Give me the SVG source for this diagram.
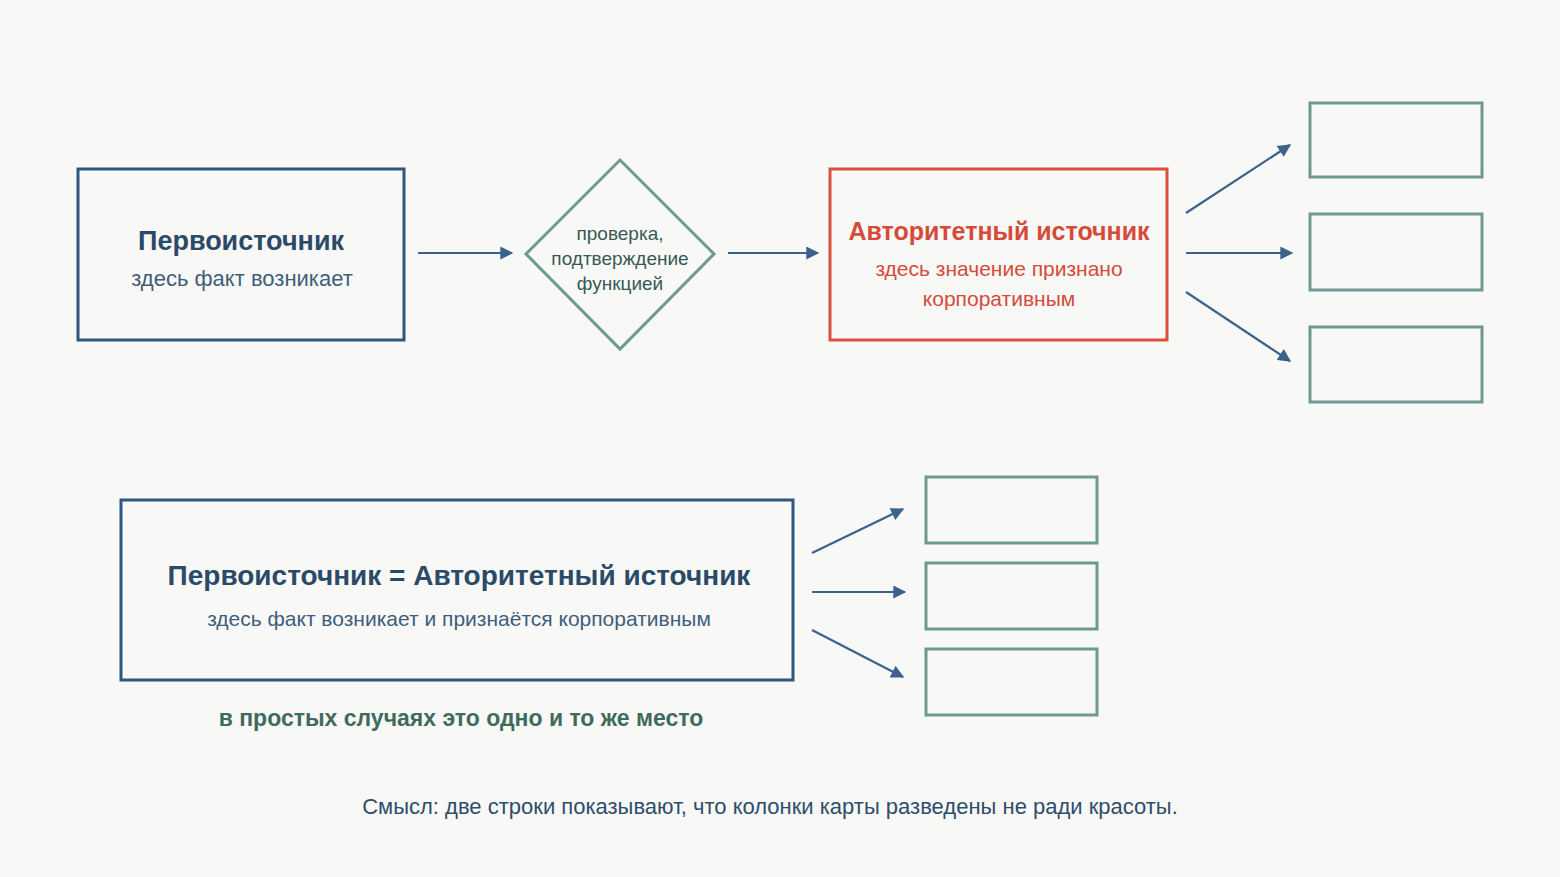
<svg xmlns="http://www.w3.org/2000/svg" width="1560" height="877" viewBox="0 0 1560 877">
<style>
text{font-family:"Liberation Sans",Arial,sans-serif;text-anchor:middle}
.h{font-weight:bold}
.blue{fill:none;stroke:#2d5680;stroke-width:3}
.red{fill:none;stroke:#d9503f;stroke-width:3}
.teal{fill:none;stroke:#6f9a92;stroke-width:3}
.c{stroke:#3b628c;stroke-width:2.2;fill:none;marker-end:url(#a)}
</style>
<defs><marker id="a" viewBox="0 0 10 10" refX="9" refY="5" markerWidth="14" markerHeight="13" markerUnits="userSpaceOnUse" orient="auto"><path d="M0,0 L10,5 L0,10 z" fill="#3b628c"/></marker></defs>
<rect width="1560" height="877" fill="#f8f8f7"/>
<g id="n1"><rect class="blue" x="78" y="169" width="326" height="171"/>
<text class="h" x="241" y="250" font-size="27" fill="#2b4a68">Первоисточник</text>
<text x="242" y="286" font-size="22" fill="#3f5e7c">здесь факт возникает</text></g>
<g id="n2"><polygon class="teal" points="620,160 714,254 620,349 526,254" stroke-width="2.5"/>
<text x="620" y="240" font-size="19" fill="#355a55">проверка,</text>
<text x="620" y="265" font-size="19" fill="#355a55">подтверждение</text>
<text x="620" y="290" font-size="19" fill="#355a55">функцией</text></g>
<g id="n3"><rect class="red" x="830" y="169" width="337" height="171"/>
<text class="h" x="999" y="240" font-size="25" fill="#d64a38">Авторитетный источник</text>
<text x="999" y="276" font-size="21" fill="#d64a38">здесь значение признано</text>
<text x="999" y="306" font-size="21" fill="#d64a38">корпоративным</text></g>
<g id="r1"><rect class="teal" x="1310" y="103" width="172" height="74"/></g>
<g id="r2"><rect class="teal" x="1310" y="214" width="172" height="76"/></g>
<g id="r3"><rect class="teal" x="1310" y="327" width="172" height="75"/></g>
<g id="n4"><rect class="blue" x="121" y="500" width="672" height="180"/>
<text class="h" x="459" y="585" font-size="28" fill="#2b4a68">Первоисточник = Авторитетный источник</text>
<text x="459" y="626" font-size="21" fill="#3f5e7c">здесь факт возникает и признаётся корпоративным</text></g>
<g id="b1"><rect class="teal" x="926" y="477" width="171" height="66"/></g>
<g id="b2"><rect class="teal" x="926" y="563" width="171" height="66"/></g>
<g id="b3"><rect class="teal" x="926" y="649" width="171" height="66"/></g>
<g id="connectors">
<line class="c" x1="418" y1="253" x2="512" y2="253"/>
<line class="c" x1="728" y1="253" x2="818" y2="253"/>
<line class="c" x1="1186" y1="213" x2="1290" y2="145"/>
<line class="c" x1="1186" y1="253" x2="1292" y2="253"/>
<line class="c" x1="1186" y1="292" x2="1290" y2="361"/>
<line class="c" x1="812" y1="553" x2="903" y2="509"/>
<line class="c" x1="812" y1="592" x2="905" y2="592"/>
<line class="c" x1="812" y1="630" x2="903" y2="677"/>
</g>
<text class="h" x="461" y="726" font-size="23" fill="#3f6a5e">в простых случаях это одно и то же место</text>
<text x="770" y="814" font-size="22" fill="#2e4d6b">Смысл: две строки показывают, что колонки карты разведены не ради красоты.</text>
</svg>
